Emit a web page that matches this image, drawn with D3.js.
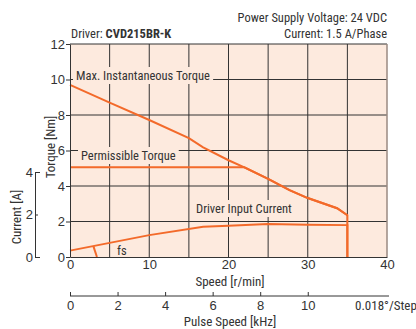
<!DOCTYPE html>
<html><head><meta charset="utf-8">
<script src="https://cdn.jsdelivr.net/npm/d3@7"></script>
<style>
body{margin:0;background:#fff}
svg text{font-family:"Liberation Sans Narrow","Arial Narrow","Roboto Condensed",sans-serif;fill:#333}
</style></head><body>
<svg id="chart" width="416" height="329"></svg>
<script>
// Tick values
const speedTicks = [0, 10, 20, 30, 40];
const torqueTicks = [0, 2, 4, 6, 8, 10, 12];
const currentTicks = [0, 2, 4];
const pulseTicks = [0, 2, 4, 6, 8, 10];
const gridSpeeds = [5, 10, 15, 20, 25, 30, 35];
const gridTorques = [2, 4, 6, 8, 10];

// Max. instantaneous torque [Nm] vs speed [r/min]
const maxTorqueSpeed = [0, 5, 10, 15, 16.8, 20, 22, 25, 27.7, 30, 33.7, 35, 35];
const maxTorqueNm    = [9.7, 8.7, 7.72, 6.7, 6.18, 5.45, 5.05, 4.4, 3.77, 3.32, 2.75, 2.35, 0];

// Permissible torque [Nm]
const permSpeed = [0, 22, 25, 27.7, 30, 33.7, 35];
const permNm    = [5.05, 5.05, 4.4, 3.77, 3.32, 2.75, 2.35];

// Driver input current [A]
const currentSpeed = [0, 10, 16.8, 20, 25, 30, 35, 35];
const currentA     = [0.3, 1.03, 1.42, 1.47, 1.55, 1.52, 1.5, 0];

// Starting pulse rate marker (speed, current)
const fsSpeed = [2.95, 3.4];
const fsA     = [0.51, 0];

const svg = d3.select("#chart");
const x = d3.scaleLinear([0, 40], [70, 387]);
const yT = d3.scaleLinear([0, 12], [257, 44]);
const yC = d3.scaleLinear([0, 4], [257, 172]);
// 0.018°/step: pulse speed [kHz] = speed [r/min] / 3
const xP = d3.scaleLinear([0, 40 / 3], [70, 387]);

const ink = "#333";
const bg = "#fdeade";
const orange = "#f36a2a";

// plot area
svg.append("rect").attr("x", x(0)).attr("y", yT(12))
  .attr("width", x(40) - x(0)).attr("height", yT(0) - yT(12)).attr("fill", bg);

const grid = svg.append("g").attr("stroke", ink).attr("stroke-width", 1);
grid.selectAll(".v").data(gridSpeeds).join("line")
  .attr("x1", d => x(d)).attr("x2", d => x(d)).attr("y1", yT(12)).attr("y2", yT(0));
grid.selectAll(".h").data(gridTorques).join("line")
  .attr("x1", x(0)).attr("x2", x(40)).attr("y1", d => yT(d)).attr("y2", d => yT(d));
grid.append("line").attr("x1", x(0)).attr("x2", x(40)).attr("y1", yT(12)).attr("y2", yT(12));
grid.append("line").attr("x1", x(40)).attr("x2", x(40)).attr("y1", yT(12)).attr("y2", yT(0))
  .attr("stroke", "#9a8a82").attr("stroke-width", 1.5);

// in-plot curve labels with background to mask the grid
function tag(txt, tx, ty) {
  const g = svg.append("g");
  const r = g.append("rect").attr("fill", bg);
  const t = g.append("text").attr("x", tx).attr("y", ty).attr("font-size", 12.5).text(txt);
  const b = t.node().getBBox();
  r.attr("x", b.x - 3).attr("y", b.y - 1).attr("width", b.width + 6).attr("height", b.height + 2);
}
tag("Max. Instantaneous Torque", 76, 80);
tag("Permissible Torque", 81, 160);
tag("Driver Input Current", 196, 213);

// curves
const lineT = d3.line().x(d => x(d[0])).y(d => yT(d[1]));
const lineC = d3.line().x(d => x(d[0])).y(d => yC(d[1]));
const curves = svg.append("g").attr("fill", "none").attr("stroke", orange).attr("stroke-width", 2);
curves.append("path").attr("d", lineT(d3.zip(maxTorqueSpeed, maxTorqueNm)));
curves.append("path").attr("d", lineT(d3.zip(permSpeed, permNm)));
curves.append("path").attr("d", lineC(d3.zip(currentSpeed, currentA)));
curves.append("path").attr("d", lineC(d3.zip(fsSpeed, fsA)));
svg.append("text").attr("x", 117).attr("y", 255).attr("font-size", 12.5).text("fs");

// torque axis
const axT = svg.append("g").attr("transform", `translate(${x(0)},0)`)
  .call(d3.axisLeft(yT).tickValues(torqueTicks).tickSize(4).tickSizeOuter(0).tickPadding(1));
// speed axis
const axS = svg.append("g").attr("transform", `translate(0,${yT(0)})`)
  .call(d3.axisBottom(x).tickValues(speedTicks).tickSize(0).tickPadding(3));
// current axis
const axC = svg.append("g").attr("transform", "translate(35,0)")
  .call(d3.axisLeft(yC).tickValues(currentTicks).tickFormat(d3.format("d"))
    .tickSizeInner(-3).tickSizeOuter(-5).tickPadding(2));
// pulse speed axis
const axP = svg.append("g").attr("transform", "translate(0,296)")
  .call(d3.axisBottom(xP).tickValues(pulseTicks).tickSizeInner(-4).tickSizeOuter(0).tickPadding(5));

[axT, axS, axC, axP].forEach(a => {
  a.selectAll("path,line").attr("stroke", ink);
  a.selectAll("text").attr("font-size", 13).attr("fill", ink)
    .style("font-family", '"Liberation Sans Narrow","Arial Narrow",sans-serif');
});
axP.select(".domain").attr("d", `M${xP(0)},0H389`);

// axis titles
svg.append("text").attr("transform", "translate(55,147) rotate(-90)")
  .attr("text-anchor", "middle").attr("font-size", 13).text("Torque [Nm]");
svg.append("text").attr("transform", "translate(21,217) rotate(-90)")
  .attr("text-anchor", "middle").attr("font-size", 13).text("Current [A]");
svg.append("text").attr("x", 230).attr("y", 286).attr("text-anchor", "middle")
  .attr("font-size", 13).text("Speed [r/min]");
svg.append("text").attr("x", 230).attr("y", 326).attr("text-anchor", "middle")
  .attr("font-size", 13).text("Pulse Speed [kHz]");
svg.append("text").attr("x", 355).attr("y", 310).attr("font-size", 13).text("0.018°/Step");

// header
svg.append("text").attr("x", 387).attr("y", 22).attr("text-anchor", "end")
  .attr("font-size", 12.5).text("Power Supply Voltage: 24 VDC");
svg.append("text").attr("x", 387).attr("y", 38).attr("text-anchor", "end")
  .attr("font-size", 12.5).text("Current: 1.5 A/Phase");
const drv = svg.append("text").attr("x", 71).attr("y", 38).attr("font-size", 12.5);
drv.append("tspan").text("Driver: ");
drv.append("tspan").attr("font-weight", "bold").text("CVD215BR-K");
</script>
</body></html>
